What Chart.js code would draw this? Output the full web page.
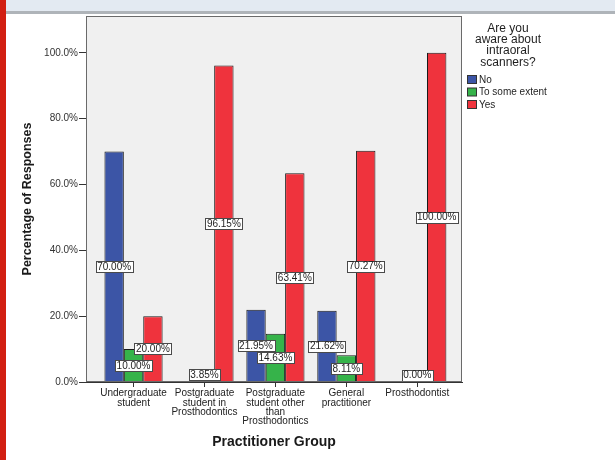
<!DOCTYPE html>
<html>
<head>
<meta charset="utf-8">
<script src="https://cdn.jsdelivr.net/npm/chart.js@4/dist/chart.umd.min.js"></script>
<style>
  html, body { margin: 0; padding: 0; background: #ffffff; }
  #wrap { position: relative; width: 615px; height: 460px; overflow: hidden; }
  #topband { position: absolute; left: 0; top: 0; width: 615px; height: 11px; background: #e3eaf2; border-bottom: 3px solid #afb4b9; }
  #sidebar { position: absolute; left: 0; top: 0; width: 6px; height: 460px; background: #d21f12; }
  canvas { position: absolute; left: 0; top: 0; }
</style>
</head>
<body>
<div id="wrap">
  <div id="topband"></div>
  <div id="sidebar"></div>
  <canvas id="chart" width="615" height="460"></canvas>
</div>
<script>
// Practitioner groups (x axis), one line per label row
const categories = [
  ["Undergraduate", "student"],
  ["Postgraduate", "student in", "Prosthodontics"],
  ["Postgraduate", "student other", "than", "Prosthodontics"],
  ["General", "practitioner"],
  ["Prosthodontist"]
];

// Percentage of responses per answer
const noValues     = [70.00, 0.00, 21.95, 21.62, 0.00];
const someValues   = [10.00, 3.85, 14.63, 8.11, 0.00];
const yesValues    = [20.00, 96.15, 63.41, 70.27, 100.00];

const seriesNames  = ["No", "To some extent", "Yes"];
const legendTitle  = ["Are you", "aware about", "intraoral", "scanners?"];
const yTickValues  = [0, 20, 40, 60, 80, 100];

const colors = ["#3c55a6", "#36b34a", "#ef333d"];
const FONT = "'Liberation Sans', Arial, sans-serif";

function toPoints(values) {
  return values.map((v, i) => ({ x: i, y: v }));
}

// Light grey plot panel with frame
const panelPlugin = {
  id: 'panel',
  beforeDraw(chart) {
    const { ctx, chartArea: a } = chart;
    ctx.save();
    ctx.fillStyle = '#f0f0f0';
    ctx.fillRect(a.left, a.top, a.right - a.left, a.bottom - a.top);
    ctx.restore();
  },
  afterDraw(chart) {
    const { ctx, chartArea: a } = chart;
    ctx.save();
    ctx.strokeStyle = '#6a6a6a';
    ctx.lineWidth = 1;
    ctx.strokeRect(Math.round(a.left) + 0.5, Math.round(a.top) + 0.5,
                   Math.round(a.right - a.left) - 1, Math.round(a.bottom - a.top) - 1);
    ctx.restore();
  }
};

// Boxed percentage labels at the middle of each bar
const barLabelPlugin = {
  id: 'barLabels',
  afterDatasetsDraw(chart) {
    const { ctx } = chart;
    ctx.save();
    ctx.font = "10px " + FONT;
    ctx.textAlign = 'center';
    ctx.textBaseline = 'middle';
    chart.data.datasets.forEach((ds, di) => {
      const meta = chart.getDatasetMeta(di);
      meta.data.forEach((bar, i) => {
        const v = ds.data[i].y;
        // zero values are labelled once, on the middle bar of the group
        if (v === 0 && di !== 1) return;
        const text = v.toFixed(2) + '%';
        const w = Math.round(ctx.measureText(text).width) + 3;
        const h = 11;
        let cy = (bar.y + bar.base) / 2;
        cy = Math.min(cy, bar.base - 7);
        const x0 = Math.round(bar.x - w / 2) + 0.5;
        const y0 = Math.round(cy - h / 2) + 0.5;
        ctx.fillStyle = '#ffffff';
        ctx.fillRect(x0, y0, w, h);
        ctx.strokeStyle = '#4a4a4a';
        ctx.lineWidth = 1;
        ctx.strokeRect(x0, y0, w, h);
        ctx.fillStyle = '#1e1e1e';
        ctx.fillText(text, bar.x, cy + 0.5);
      });
    });
    ctx.restore();
  }
};

// Legend with a wrapped title at the right of the panel
const legendPlugin = {
  id: 'sideLegend',
  afterDraw(chart) {
    const { ctx } = chart;
    ctx.save();
    ctx.fillStyle = '#1e1e1e';
    ctx.font = "12px " + FONT;
    ctx.textAlign = 'center';
    ctx.textBaseline = 'middle';
    legendTitle.forEach((line, k) => ctx.fillText(line, 508, 28.5 + k * 11.3));
    ctx.font = "10px " + FONT;
    ctx.textAlign = 'left';
    chart.data.datasets.forEach((ds, k) => {
      const y = 75.5 + k * 12.5;
      ctx.fillStyle = ds.backgroundColor;
      ctx.fillRect(467.5, y, 9, 8);
      ctx.strokeStyle = '#333333';
      ctx.lineWidth = 1;
      ctx.strokeRect(467.5, y, 9, 8);
      ctx.fillStyle = '#1e1e1e';
      ctx.fillText(ds.label, 479, y + 4.5);
    });
    ctx.restore();
  }
};

new Chart(document.getElementById('chart'), {
  type: 'bar',
  data: {
    datasets: [
      { label: seriesNames[0], data: toPoints(noValues),   backgroundColor: colors[0] },
      { label: seriesNames[1], data: toPoints(someValues), backgroundColor: colors[1] },
      { label: seriesNames[2], data: toPoints(yesValues),  backgroundColor: colors[2] }
    ].map(d => Object.assign(d, {
      borderColor: '#1a1a1a',
      borderWidth: 1,
      categoryPercentage: 0.82,
      barPercentage: 1.0
    }))
  },
  options: {
    responsive: false,
    animation: false,
    devicePixelRatio: 1,
    layout: { padding: { top: 16, right: 153, left: 0, bottom: 0 } },
    plugins: {
      legend: { display: false },
      tooltip: { enabled: false }
    },
    scales: {
      x: {
        type: 'linear',
        min: -0.67,
        max: 4.63,
        offset: false,
        afterBuildTicks(scale) {
          scale.ticks = categories.map((_, i) => ({ value: i }));
        },
        afterFit(scale) { scale.height = 78; },
        grid: {
          display: true,
          offset: false,
          drawOnChartArea: false,
          drawTicks: true,
          tickLength: 5,
          color: '#333333'
        },
        border: { display: true, color: '#333333', width: 1 },
        ticks: {
          autoSkip: false,
          maxRotation: 0,
          minRotation: 0,
          padding: 2,
          color: '#222222',
          font: { family: FONT, size: 10, lineHeight: 0.93 },
          callback: (v) => categories[v] || ''
        },
        title: {
          display: true,
          text: 'Practitioner Group',
          color: '#1a1a1a',
          font: { family: FONT, size: 14, weight: 'bold' },
          padding: { top: 0, bottom: 9.6 }
        }
      },
      y: {
        min: 0,
        max: 111.2,
        afterBuildTicks(scale) {
          scale.ticks = yTickValues.map(v => ({ value: v }));
        },
        afterFit(scale) { scale.width = 86; },
        grid: {
          display: true,
          drawOnChartArea: false,
          drawTicks: true,
          tickLength: 7,
          color: '#333333'
        },
        border: { display: true, color: '#333333', width: 1 },
        ticks: {
          padding: 1,
          color: '#333333',
          font: { family: FONT, size: 10 },
          callback: (v) => v.toFixed(1) + '%'
        },
        title: {
          display: true,
          text: 'Percentage of Responses',
          color: '#1a1a1a',
          font: { family: FONT, size: 12.5, weight: 'bold' },
          padding: { top: 20, bottom: 0 }
        }
      }
    }
  },
  plugins: [panelPlugin, barLabelPlugin, legendPlugin]
});
</script>
</body>
</html>
